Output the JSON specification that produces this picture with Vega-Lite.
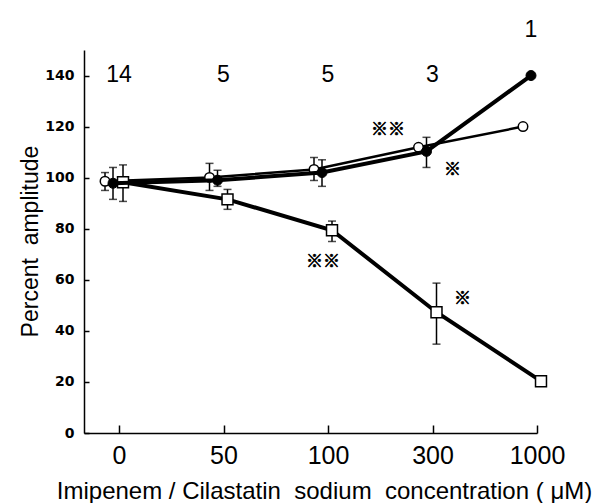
{
  "$schema": "https://vega.github.io/schema/vega-lite/v6.json",
  "width": 453,
  "height": 383,
  "autosize": {"type": "none"},
  "padding": {"left": 84, "top": 50, "right": 59, "bottom": 70},
  "background": "white",
  "config": {
    "view": {"stroke": null},
    "font": "Liberation Sans",
    "axis": {"grid": false, "domainColor": "black", "tickColor": "black", "labelColor": "black", "titleColor": "black", "domainWidth": 1.5, "tickWidth": 1.5}
  },
  "datasets": {
    "amp": [
      {"conc": "0", "series": "open", "value": 98.6, "lo": 95.0, "hi": 102.0},
      {"conc": "50", "series": "open", "value": 100.1, "lo": 95.0, "hi": 105.6},
      {"conc": "100", "series": "open", "value": 103.2, "lo": 98.9, "hi": 107.9},
      {"conc": "300", "series": "open", "value": 111.9, "lo": null, "hi": null},
      {"conc": "1000", "series": "open", "value": 120.0, "lo": null, "hi": null},
      {"conc": "0", "series": "filled", "value": 97.8, "lo": 91.5, "hi": 104.0},
      {"conc": "50", "series": "filled", "value": 99.0, "lo": 96.6, "hi": 102.9},
      {"conc": "100", "series": "filled", "value": 102.0, "lo": 96.6, "hi": 107.0},
      {"conc": "300", "series": "filled", "value": 110.3, "lo": 104.0, "hi": 115.8},
      {"conc": "1000", "series": "filled", "value": 140.0, "lo": null, "hi": null},
      {"conc": "0", "series": "square", "value": 98.2, "lo": 90.7, "hi": 105.0},
      {"conc": "50", "series": "square", "value": 91.5, "lo": 87.6, "hi": 95.4},
      {"conc": "100", "series": "square", "value": 79.4, "lo": 75.0, "hi": 83.0},
      {"conc": "300", "series": "square", "value": 47.3, "lo": 34.8, "hi": 58.7},
      {"conc": "1000", "series": "square", "value": 20.3, "lo": null, "hi": null}
    ],
    "counts": [
      {"conc": "0", "n": "14"},
      {"conc": "50", "n": "5"},
      {"conc": "100", "n": "5"},
      {"conc": "300", "n": "3"}
    ]
  },
  "encoding": {
    "x": {
      "field": "conc",
      "type": "ordinal",
      "sort": ["0", "50", "100", "300", "1000"],
      "scale": {"type": "point", "padding": 0.1675, "align": 1},
      "axis": {
        "labelAngle": 0,
        "labelFont": "Liberation Sans",
        "labelFontSize": 25,
        "labelPadding": 18,
        "tickSize": -8,
        "title": "Imipenem / Cilastatin\u00a0 sodium\u00a0 concentration ( μM)",
        "titleFont": "Liberation Sans",
        "titleFontSize": 24,
        "titleFontWeight": "normal",
        "titleX": 240,
        "titleY": 65,
        "titleAlign": "center",
        "titleBaseline": "alphabetic"
      }
    }
  },
  "layer": [
    {
      "data": {"name": "amp"},
      "transform": [{"filter": "datum.series === 'open'"}],
      "encoding": {
        "y": {
          "field": "value",
          "type": "quantitative",
          "scale": {"domain": [0, 150], "nice": false},
          "axis": {
            "values": [0, 20, 40, 60, 80, 100, 120, 140],
            "labelFont": "DejaVu Sans",
            "labelFontSize": 14,
            "labelFontWeight": "bold",
            "labelPadding": 15,
            "tickSize": -5,
            "title": "Percent\u00a0 amplitude",
            "titleFont": "Liberation Sans",
            "titleFontSize": 23,
            "titleFontWeight": "normal",
            "titleX": -54,
            "titleY": 191,
            "titleAlign": "center",
            "titleBaseline": "middle"
          }
        }
      },
      "layer": [
        {"mark": {"type": "line", "color": "black", "strokeWidth": 2.5, "xOffset": -14}},
        {"mark": {"type": "rule", "color": "black", "strokeWidth": 1.5, "xOffset": -14}, "encoding": {"y": {"field": "lo", "type": "quantitative"}, "y2": {"field": "hi"}}},
        {"mark": {"type": "tick", "color": "black", "size": 8, "thickness": 1.5, "xOffset": -14}, "encoding": {"y": {"field": "lo", "type": "quantitative"}}},
        {"mark": {"type": "tick", "color": "black", "size": 8, "thickness": 1.5, "xOffset": -14}, "encoding": {"y": {"field": "hi", "type": "quantitative"}}},
        {"mark": {"type": "point", "shape": "circle", "size": 90, "filled": true, "fill": "white", "stroke": "black", "strokeWidth": 1.5, "opacity": 1, "xOffset": -14}}
      ]
    },
    {
      "data": {"name": "amp"},
      "transform": [{"filter": "datum.series === 'square'"}],
      "encoding": {"y": {"field": "value", "type": "quantitative"}},
      "layer": [
        {"mark": {"type": "line", "color": "black", "strokeWidth": 4, "xOffset": 4}},
        {"mark": {"type": "rule", "color": "black", "strokeWidth": 1.5, "xOffset": 4}, "encoding": {"y": {"field": "lo", "type": "quantitative"}, "y2": {"field": "hi"}}},
        {"mark": {"type": "tick", "color": "black", "size": 8, "thickness": 1.5, "xOffset": 4}, "encoding": {"y": {"field": "lo", "type": "quantitative"}}},
        {"mark": {"type": "tick", "color": "black", "size": 8, "thickness": 1.5, "xOffset": 4}, "encoding": {"y": {"field": "hi", "type": "quantitative"}}},
        {"mark": {"type": "point", "shape": "square", "size": 120, "filled": true, "fill": "white", "stroke": "black", "strokeWidth": 1.5, "opacity": 1, "xOffset": 4}}
      ]
    },
    {
      "data": {"name": "amp"},
      "transform": [{"filter": "datum.series === 'filled'"}],
      "encoding": {"y": {"field": "value", "type": "quantitative"}},
      "layer": [
        {"mark": {"type": "line", "color": "black", "strokeWidth": 4, "xOffset": -6}},
        {"mark": {"type": "rule", "color": "black", "strokeWidth": 1.5, "xOffset": -6}, "encoding": {"y": {"field": "lo", "type": "quantitative"}, "y2": {"field": "hi"}}},
        {"mark": {"type": "tick", "color": "black", "size": 8, "thickness": 1.5, "xOffset": -6}, "encoding": {"y": {"field": "lo", "type": "quantitative"}}},
        {"mark": {"type": "tick", "color": "black", "size": 8, "thickness": 1.5, "xOffset": -6}, "encoding": {"y": {"field": "hi", "type": "quantitative"}}},
        {"mark": {"type": "point", "shape": "circle", "size": 100, "filled": true, "fill": "black", "stroke": "black", "strokeWidth": 1, "opacity": 1, "xOffset": -6}}
      ]
    },
    {
      "data": {"name": "counts"},
      "mark": {"type": "text", "font": "Liberation Sans", "fontSize": 23, "baseline": "alphabetic", "align": "center"},
      "encoding": {"y": {"datum": 137.5}, "text": {"field": "n"}}
    },
    {
      "data": {"values": [{"conc": "1000", "n": "1"}]},
      "mark": {"type": "text", "font": "Liberation Sans", "fontSize": 23, "baseline": "alphabetic", "align": "center", "dx": -6},
      "encoding": {"y": {"datum": 155.1}, "text": {"field": "n"}}
    },
    {
      "data": {"values": [{"conc": "100", "level": 118.7, "sig": "※※"}]},
      "mark": {"type": "text", "font": "Noto Sans CJK JP", "fontSize": 17, "fill": "black", "stroke": "black", "strokeWidth": 0.7, "baseline": "middle", "align": "center", "dx": 60},
      "encoding": {"y": {"field": "level", "type": "quantitative"}, "text": {"field": "sig"}}
    },
    {
      "data": {"values": [{"conc": "300", "level": 103.0, "sig": "※"}]},
      "mark": {"type": "text", "font": "Noto Sans CJK JP", "fontSize": 17, "fill": "black", "stroke": "black", "strokeWidth": 0.7, "baseline": "middle", "align": "center", "dx": 20},
      "encoding": {"y": {"field": "level", "type": "quantitative"}, "text": {"field": "sig"}}
    },
    {
      "data": {"values": [{"conc": "100", "level": 67.0, "sig": "※※"}]},
      "mark": {"type": "text", "font": "Noto Sans CJK JP", "fontSize": 17, "fill": "black", "stroke": "black", "strokeWidth": 0.7, "baseline": "middle", "align": "center", "dx": -5},
      "encoding": {"y": {"field": "level", "type": "quantitative"}, "text": {"field": "sig"}}
    },
    {
      "data": {"values": [{"conc": "300", "level": 52.5, "sig": "※"}]},
      "mark": {"type": "text", "font": "Noto Sans CJK JP", "fontSize": 17, "fill": "black", "stroke": "black", "strokeWidth": 0.7, "baseline": "middle", "align": "center", "dx": 30},
      "encoding": {"y": {"field": "level", "type": "quantitative"}, "text": {"field": "sig"}}
    }
  ]
}
